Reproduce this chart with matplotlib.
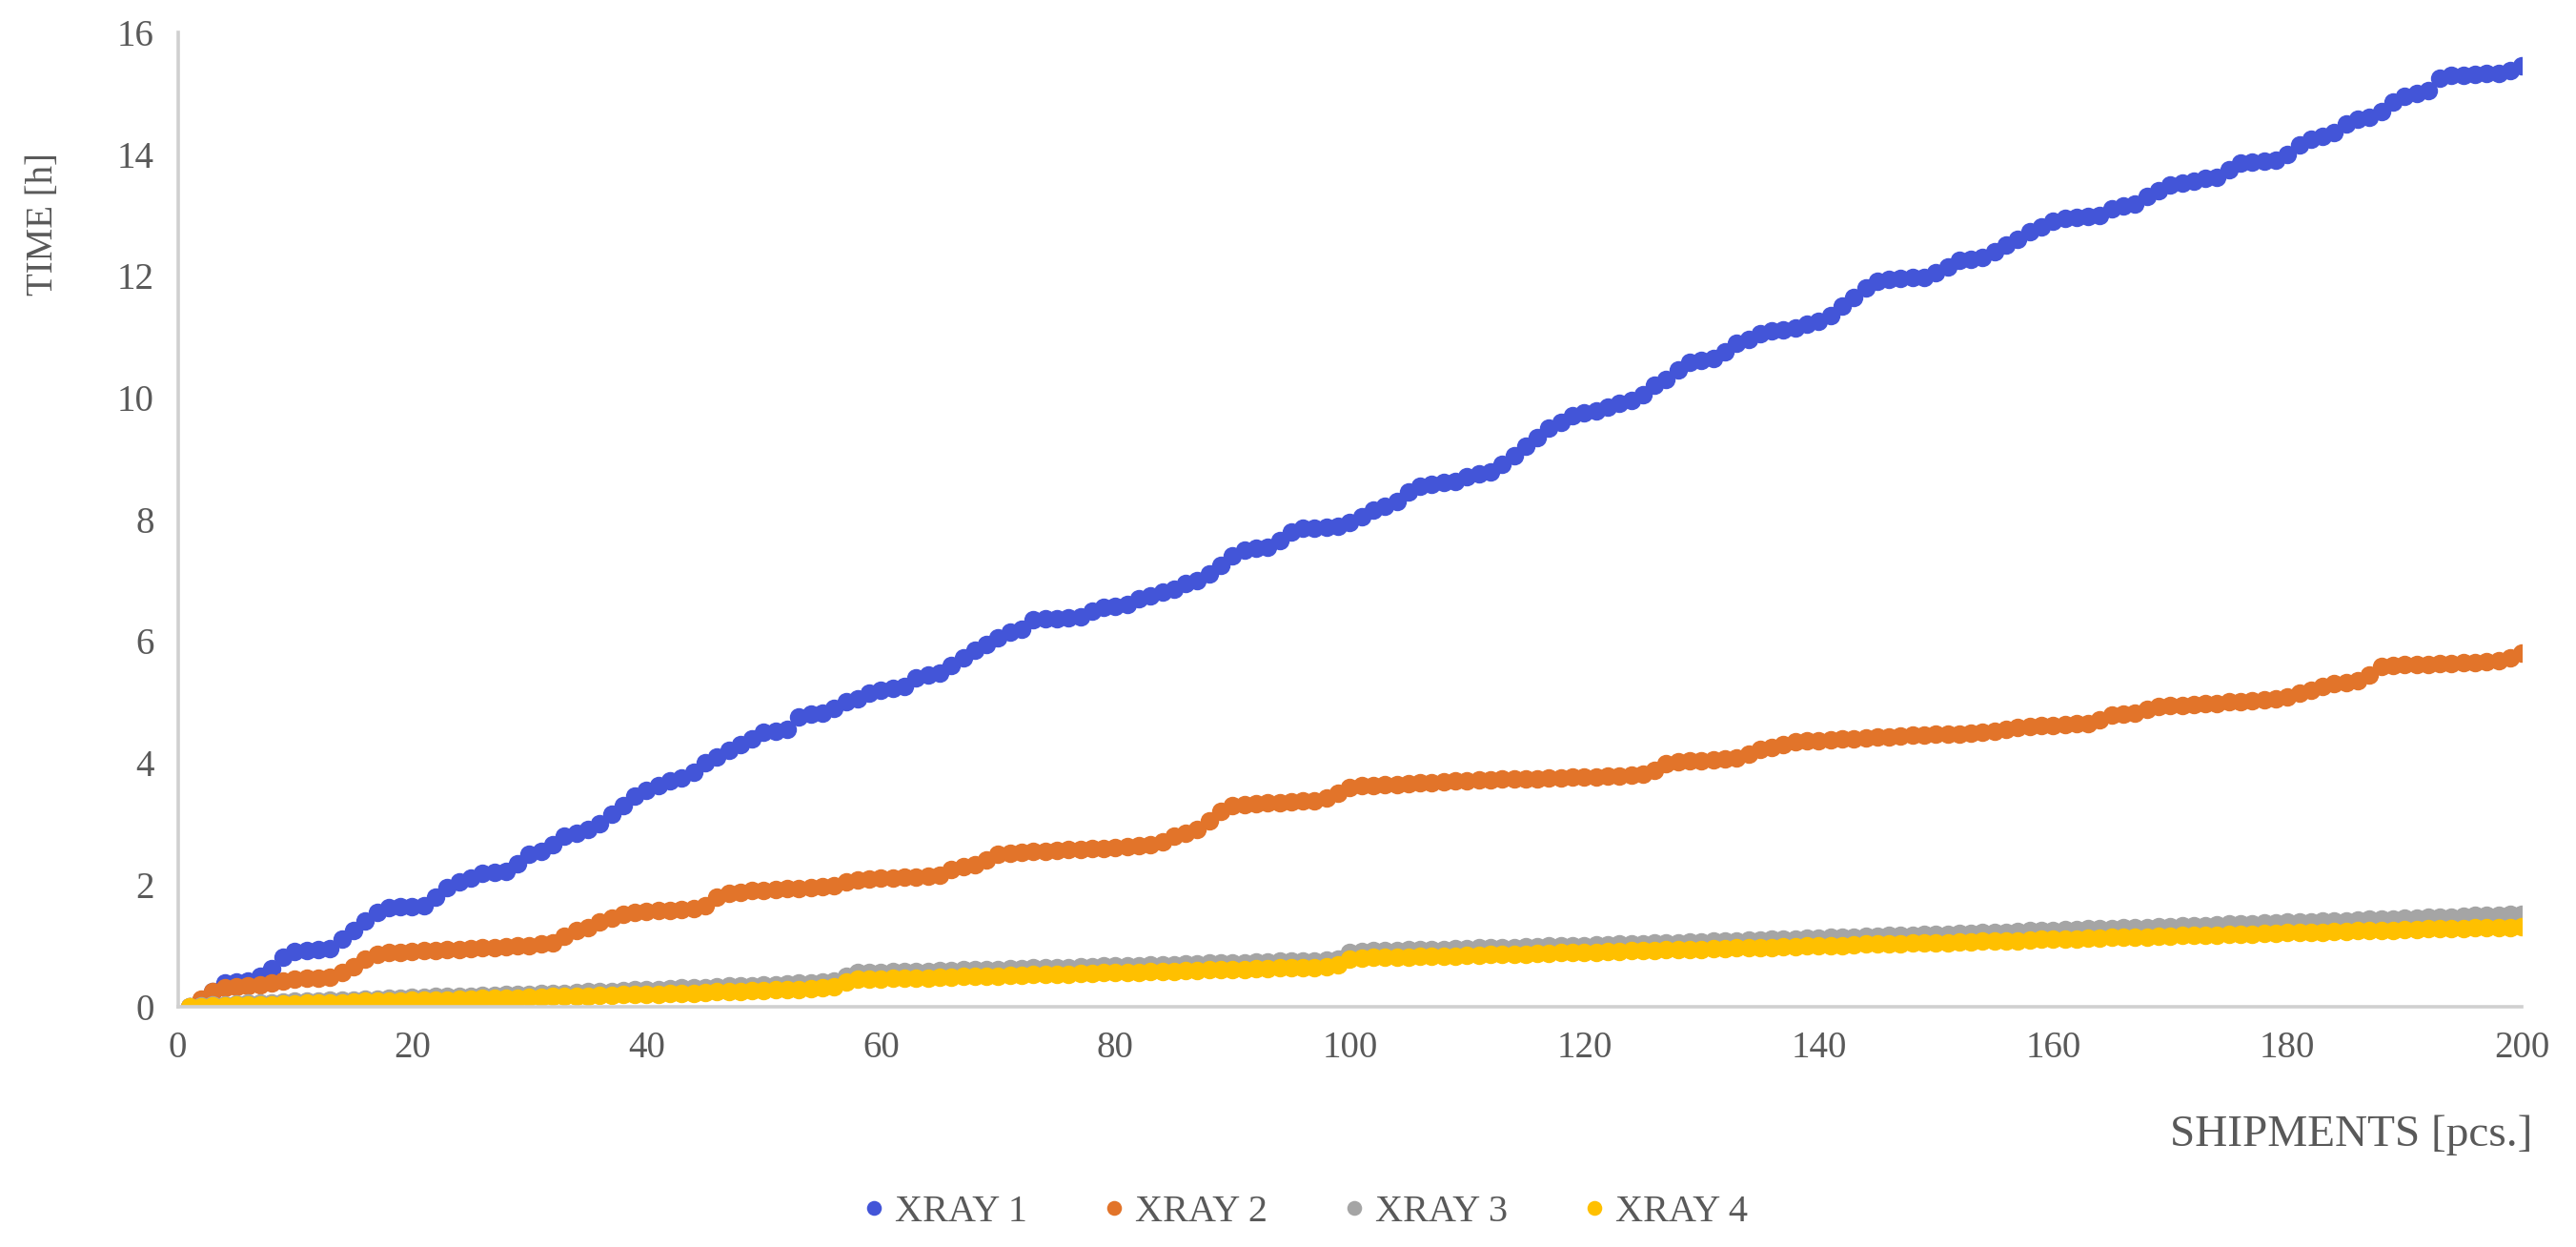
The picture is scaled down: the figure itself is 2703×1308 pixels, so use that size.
import matplotlib.pyplot as plt
import numpy as np

plt.rcParams['font.family'] = ['Liberation Serif', 'DejaVu Serif']

shipments = np.arange(1, 201)

xray1 = [
    0.00, 0.10, 0.25, 0.38, 0.40, 0.42, 0.50, 0.62, 0.80, 0.90,
    0.92, 0.93, 0.95, 1.10, 1.25, 1.40, 1.55, 1.62, 1.63, 1.64,
    1.65, 1.80, 1.95, 2.05, 2.10, 2.18, 2.20, 2.22, 2.35, 2.50,
    2.55, 2.65, 2.80, 2.85, 2.90, 3.00, 3.15, 3.30, 3.45, 3.55,
    3.62, 3.70, 3.75, 3.85, 4.00, 4.10, 4.20, 4.30, 4.40, 4.50,
    4.52, 4.55, 4.75, 4.80, 4.82, 4.90, 5.00, 5.05, 5.15, 5.20,
    5.22, 5.25, 5.40, 5.45, 5.48, 5.60, 5.72, 5.85, 5.95, 6.05,
    6.15, 6.20, 6.35, 6.36, 6.37, 6.38, 6.40, 6.50, 6.55, 6.57,
    6.60, 6.70, 6.75, 6.80, 6.85, 6.95, 7.00, 7.10, 7.25, 7.40,
    7.50, 7.52, 7.55, 7.65, 7.80, 7.85, 7.86, 7.87, 7.88, 7.95,
    8.05, 8.15, 8.22, 8.30, 8.45, 8.55, 8.58, 8.60, 8.62, 8.70,
    8.75, 8.78, 8.90, 9.05, 9.20, 9.35, 9.50, 9.60, 9.70, 9.75,
    9.78, 9.85, 9.90, 9.95, 10.05, 10.20, 10.30, 10.45, 10.58, 10.62,
    10.65, 10.75, 10.90, 10.95, 11.05, 11.10, 11.12, 11.15, 11.20, 11.25,
    11.35, 11.50, 11.65, 11.80, 11.92, 11.95, 11.96, 11.97, 11.98, 12.05,
    12.15, 12.25, 12.27, 12.30, 12.40, 12.50, 12.60, 12.72, 12.80, 12.90,
    12.95, 12.96, 12.97, 13.00, 13.10, 13.15, 13.18, 13.30, 13.40, 13.50,
    13.52, 13.55, 13.60, 13.62, 13.75, 13.85, 13.87, 13.88, 13.90, 14.00,
    14.15, 14.25, 14.30, 14.35, 14.50, 14.58, 14.60, 14.70, 14.85, 14.95,
    15.00, 15.05, 15.25, 15.30, 15.30, 15.31, 15.32, 15.33, 15.38, 15.45,
]

xray2 = [
    0.00, 0.12, 0.25, 0.30, 0.32, 0.33, 0.35, 0.38, 0.42, 0.45,
    0.46, 0.47, 0.48, 0.55, 0.65, 0.78, 0.86, 0.88, 0.89, 0.90,
    0.91, 0.92, 0.93, 0.94, 0.95, 0.96, 0.97, 0.98, 0.99, 1.00,
    1.02, 1.05, 1.15, 1.25, 1.30, 1.38, 1.45, 1.52, 1.55, 1.56,
    1.57, 1.58, 1.59, 1.60, 1.65, 1.80, 1.85, 1.88, 1.90, 1.91,
    1.92, 1.93, 1.94, 1.95, 1.96, 1.98, 2.05, 2.08, 2.09, 2.10,
    2.11, 2.12, 2.13, 2.14, 2.16, 2.25, 2.30, 2.32, 2.40, 2.50,
    2.52, 2.53, 2.54, 2.55, 2.56, 2.57, 2.58, 2.59, 2.60, 2.61,
    2.62, 2.64, 2.65, 2.70, 2.80, 2.85, 2.90, 3.05, 3.20, 3.30,
    3.32, 3.33, 3.34, 3.35, 3.36, 3.37, 3.38, 3.42, 3.50, 3.60,
    3.62, 3.63, 3.64, 3.65, 3.66, 3.67, 3.68, 3.69, 3.70, 3.71,
    3.72, 3.72, 3.73, 3.73, 3.74, 3.74, 3.75, 3.75, 3.76, 3.76,
    3.77, 3.78, 3.79, 3.80, 3.82, 3.88, 3.98, 4.02, 4.03, 4.04,
    4.05, 4.06, 4.08, 4.15, 4.22, 4.25, 4.30, 4.35, 4.36, 4.37,
    4.38, 4.39, 4.40, 4.41, 4.42, 4.43, 4.44, 4.45, 4.46, 4.47,
    4.47, 4.48, 4.49, 4.50, 4.52, 4.55, 4.58, 4.60, 4.61, 4.62,
    4.63, 4.64, 4.65, 4.70, 4.78, 4.80, 4.82, 4.88, 4.92, 4.94,
    4.95, 4.96, 4.97, 4.98, 5.00, 5.01, 5.02, 5.03, 5.05, 5.08,
    5.15, 5.20, 5.25, 5.30, 5.32, 5.35, 5.45, 5.58, 5.60, 5.61,
    5.62, 5.62, 5.63, 5.63, 5.64, 5.65, 5.66, 5.68, 5.72, 5.80,
]

xray3 = [
    0.00, 0.01, 0.02, 0.03, 0.04, 0.05, 0.06, 0.06, 0.07, 0.08,
    0.08, 0.09, 0.10, 0.10, 0.11, 0.12, 0.12, 0.13, 0.14, 0.15,
    0.15, 0.16, 0.16, 0.17, 0.17, 0.18, 0.18, 0.19, 0.20, 0.20,
    0.21, 0.21, 0.22, 0.23, 0.24, 0.25, 0.25, 0.26, 0.27, 0.28,
    0.28, 0.29, 0.30, 0.31, 0.31, 0.32, 0.33, 0.34, 0.34, 0.35,
    0.36, 0.37, 0.38, 0.39, 0.40, 0.42, 0.50, 0.55, 0.56, 0.56,
    0.57, 0.57, 0.58, 0.58, 0.59, 0.59, 0.60, 0.60, 0.61, 0.61,
    0.62, 0.62, 0.63, 0.63, 0.64, 0.64, 0.65, 0.65, 0.66, 0.66,
    0.67, 0.67, 0.68, 0.68, 0.69, 0.70, 0.70, 0.71, 0.71, 0.72,
    0.72, 0.73, 0.73, 0.74, 0.74, 0.75, 0.75, 0.76, 0.78, 0.88,
    0.90, 0.91, 0.92, 0.92, 0.93, 0.93, 0.94, 0.94, 0.95, 0.95,
    0.96, 0.96, 0.97, 0.97, 0.98, 0.98, 0.99, 0.99, 1.00, 1.00,
    1.01, 1.01, 1.02, 1.03, 1.03, 1.04, 1.05, 1.05, 1.06, 1.06,
    1.07, 1.07, 1.08, 1.09, 1.09, 1.10, 1.10, 1.11, 1.12, 1.12,
    1.13, 1.13, 1.14, 1.15, 1.15, 1.16, 1.17, 1.17, 1.18, 1.18,
    1.19, 1.20, 1.20, 1.21, 1.22, 1.22, 1.23, 1.24, 1.24, 1.25,
    1.26, 1.26, 1.27, 1.27, 1.28, 1.29, 1.29, 1.30, 1.31, 1.31,
    1.32, 1.33, 1.33, 1.34, 1.35, 1.35, 1.36, 1.37, 1.37, 1.38,
    1.39, 1.39, 1.40, 1.41, 1.41, 1.42, 1.43, 1.43, 1.44, 1.45,
    1.45, 1.46, 1.47, 1.47, 1.48, 1.49, 1.49, 1.50, 1.51, 1.52,
]

xray4 = [
    0.00, 0.00, 0.01, 0.01, 0.02, 0.02, 0.03, 0.03, 0.04, 0.04,
    0.05, 0.05, 0.06, 0.06, 0.07, 0.08, 0.08, 0.09, 0.09, 0.10,
    0.10, 0.11, 0.11, 0.12, 0.12, 0.13, 0.13, 0.14, 0.14, 0.15,
    0.15, 0.16, 0.16, 0.17, 0.17, 0.18, 0.18, 0.19, 0.19, 0.20,
    0.20, 0.21, 0.22, 0.22, 0.23, 0.24, 0.24, 0.25, 0.26, 0.26,
    0.27, 0.28, 0.28, 0.29, 0.30, 0.32, 0.40, 0.44, 0.45, 0.45,
    0.46, 0.46, 0.47, 0.47, 0.48, 0.48, 0.49, 0.49, 0.50, 0.50,
    0.51, 0.51, 0.52, 0.52, 0.53, 0.53, 0.54, 0.54, 0.55, 0.55,
    0.56, 0.56, 0.57, 0.57, 0.58, 0.59, 0.59, 0.60, 0.60, 0.61,
    0.61, 0.62, 0.62, 0.63, 0.63, 0.64, 0.64, 0.65, 0.68, 0.77,
    0.79, 0.80, 0.80, 0.81, 0.81, 0.82, 0.82, 0.83, 0.83, 0.84,
    0.84, 0.85, 0.85, 0.86, 0.86, 0.87, 0.87, 0.88, 0.88, 0.89,
    0.89, 0.90, 0.90, 0.91, 0.91, 0.92, 0.93, 0.93, 0.94, 0.94,
    0.95, 0.95, 0.96, 0.96, 0.97, 0.97, 0.98, 0.98, 0.99, 0.99,
    1.00, 1.00, 1.01, 1.02, 1.02, 1.03, 1.03, 1.04, 1.04, 1.05,
    1.05, 1.06, 1.06, 1.07, 1.07, 1.08, 1.08, 1.09, 1.10, 1.10,
    1.11, 1.11, 1.12, 1.12, 1.13, 1.13, 1.14, 1.14, 1.15, 1.15,
    1.16, 1.16, 1.17, 1.17, 1.18, 1.18, 1.19, 1.20, 1.20, 1.21,
    1.21, 1.22, 1.22, 1.23, 1.23, 1.24, 1.24, 1.25, 1.25, 1.26,
    1.26, 1.27, 1.27, 1.28, 1.28, 1.29, 1.29, 1.30, 1.30, 1.31,
]

labels = ['XRAY 1', 'XRAY 2', 'XRAY 3', 'XRAY 4']
colors = ['#4355D8', '#E2742A', '#A5A5A5', '#FFC000']
text_grey = '#595959'

fig = plt.figure(figsize=(13.515, 6.54), dpi=200)
ax = fig.add_axes([0.069, 0.193, 0.910, 0.781])

for ys, lab, col in zip([xray1, xray2, xray3, xray4], labels, colors):
    ax.plot(shipments, ys, '-o', color=col, markersize=7, linewidth=2,
            markeredgewidth=0, label=lab)

ax.set_xlim(0, 200)
ax.set_ylim(0, 16)
ax.set_xticks(np.arange(0, 201, 20))
ax.set_yticks(np.arange(0, 17, 2))
ax.tick_params(length=0, labelsize=14, labelcolor=text_grey, pad=9)

for s in ['top', 'right']:
    ax.spines[s].set_visible(False)
for s in ['left', 'bottom']:
    ax.spines[s].set_color('#D0D0D0')
    ax.spines[s].set_linewidth(1.3)

fig.text(0.010, 0.82, 'TIME [h]', rotation=90, ha='left', va='center',
         fontsize=14, color=text_grey)
fig.text(0.983, 0.09, 'SHIPMENTS [pcs.]', ha='right', va='center',
         fontsize=17, color=text_grey)

leg = fig.legend(loc='center', bbox_to_anchor=(0.507, 0.028), ncol=4,
                 frameon=False, fontsize=14.5, labelcolor=text_grey,
                 handlelength=0.5, handletextpad=0.3, columnspacing=2.0,
                 markerscale=0.8)
for h in leg.legend_handles:
    h.set_linestyle('')

fig.savefig('out.png', dpi=200)
